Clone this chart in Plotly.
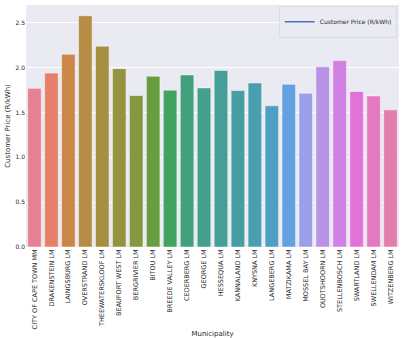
import math, colorsys
import numpy as np
import plotly.graph_objects as go

municipalities = ["CITY OF CAPE TOWN MM", "DRAKENSTEIN LM", "LAINGSBURG LM", "OVERSTRAND LM",
                  "THEEWATERSKLOOF LM", "BEAUFORT WEST LM", "BERGRIVIER LM", "BITOU LM",
                  "BREEDE VALLEY LM", "CEDERBERG LM", "GEORGE LM", "HESSEQUA LM", "KANNALAND LM",
                  "KNYSNA LM", "LANGEBERG LM", "MATZIKAMA LM", "MOSSEL BAY LM", "OUDTSHOORN LM",
                  "STELLENBOSCH LM", "SWARTLAND LM", "SWELLENDAM LM", "WITZENBERG LM"]
municipal_price = [1.77, 1.94, 2.15, 2.58, 2.24, 1.99, 1.69, 1.905, 1.75, 1.92, 1.775,
                   1.97, 1.745, 1.83, 1.575, 1.815, 1.715, 2.01, 2.08, 1.735, 1.685, 1.53]
customer_price = 1.38

# --- seaborn-like husl palette (colour styling only) ---
M = [[3.2406, -1.5372, -0.4986], [-0.9689, 1.8758, 0.0415], [0.0557, -0.2040, 1.0570]]
refU, refV, lab_e, lab_k = 0.19784, 0.46834, 0.008856, 903.3

def max_chroma(L, H):
    hr = math.radians(H); sH, cH = math.sin(hr), math.cos(hr)
    sub1 = (L + 16) ** 3 / 1560896.0
    sub2 = sub1 if sub1 > lab_e else L / lab_k
    res = float("inf")
    for m1, m2, m3 in M:
        top = (0.99915 * m1 + 1.05122 * m2 + 1.14460 * m3) * sub2
        rb = 0.86330 * m3 - 0.17266 * m2
        lb = 0.12949 * m3 - 0.38848 * m1
        bottom = (rb * sH + lb * cH) * sub2
        for t in (0.0, 1.0):
            C = L * (top - 1.05122 * t) / (bottom + 0.17266 * sH * t)
            if 0 < C < res:
                res = C
    return res

def husl_to_rgb(H, S, L):
    C = max_chroma(L, H) / 100.0 * S
    hr = math.radians(H)
    U, V = math.cos(hr) * C, math.sin(hr) * C
    t = (L + 16) / 116.0
    Y = t ** 3 if t ** 3 > lab_e else (116 * t - 16) / lab_k
    vU = U / (13 * L) + refU; vV = V / (13 * L) + refV
    X = -(9 * Y * vU) / ((vU - 4) * vV - vU * vV)
    Z = (9 * Y - 15 * vV * Y - vV * X) / (3 * vV)
    out = []
    for row in M:
        c = row[0] * X + row[1] * Y + row[2] * Z
        c = 12.92 * c if c <= 0.0031308 else 1.055 * c ** (1 / 2.4) - 0.055
        out.append(min(max(c, 0), 1))
    return out

n = len(municipalities)
hues = (np.linspace(0, 1, n + 1)[:-1] + 0.01) % 1 * 359
colors = []
for h in hues:
    r, g, b = husl_to_rgb(h, 0.9 * 99, 0.65 * 99)
    hh, ll, ss = colorsys.rgb_to_hls(r, g, b)
    r, g, b = colorsys.hls_to_rgb(hh, ll, ss * 0.75)
    colors.append("rgb(%d,%d,%d)" % (round(r * 255), round(g * 255), round(b * 255)))

FONT = "DejaVu Sans"
TXT = "#262626"
fig = go.Figure()
fig.add_trace(go.Bar(x=municipalities, y=municipal_price, marker_color=colors,
                     marker_line=dict(color="rgba(255,255,255,0.6)", width=0.8),
                     width=0.8, showlegend=False))
fig.add_trace(go.Scatter(x=[-0.5, n - 0.5], y=[customer_price, customer_price], mode="lines",
                         line=dict(color="#4c72b0", width=1.5),
                         name="Customer Price (R/kWh)", showlegend=True))

fig.update_layout(
    width=403, height=338,
    margin=dict(l=26, r=4, t=5, b=91),
    paper_bgcolor="white", plot_bgcolor="#eaeaf2",
    font=dict(family=FONT, size=6, color=TXT),
    bargap=0.2,
    legend=dict(x=0.995, y=0.993, xanchor="right", yanchor="top", itemwidth=30,
                bgcolor="rgba(234,234,242,0.8)", bordercolor="#d0d0d8", borderwidth=0.6,
                font=dict(size=6, color=TXT), tracegroupgap=0),
    xaxis=dict(range=[-0.5, n - 0.5], tickangle=-90, showgrid=False, zeroline=False,
               showline=False, ticks="", tickfont=dict(size=6.5, color=TXT), automargin=False,
               title=dict(text="Municipality", font=dict(size=7, color=TXT), standoff=3)),
    yaxis=dict(range=[0, 2.7], tickvals=[0, 0.5, 1.0, 1.5, 2.0, 2.5],
               ticktext=["0.0", "0.5", "1.0", "1.5", "2.0", "2.5"], automargin=False,
               gridcolor="white", gridwidth=0.8, zeroline=False, showline=False, ticks="",
               tickfont=dict(size=6, color=TXT),
               title=dict(text="Customer Price (R/kWh)", font=dict(size=7, color=TXT), standoff=4)),
)
fig.write_html("out.html")
